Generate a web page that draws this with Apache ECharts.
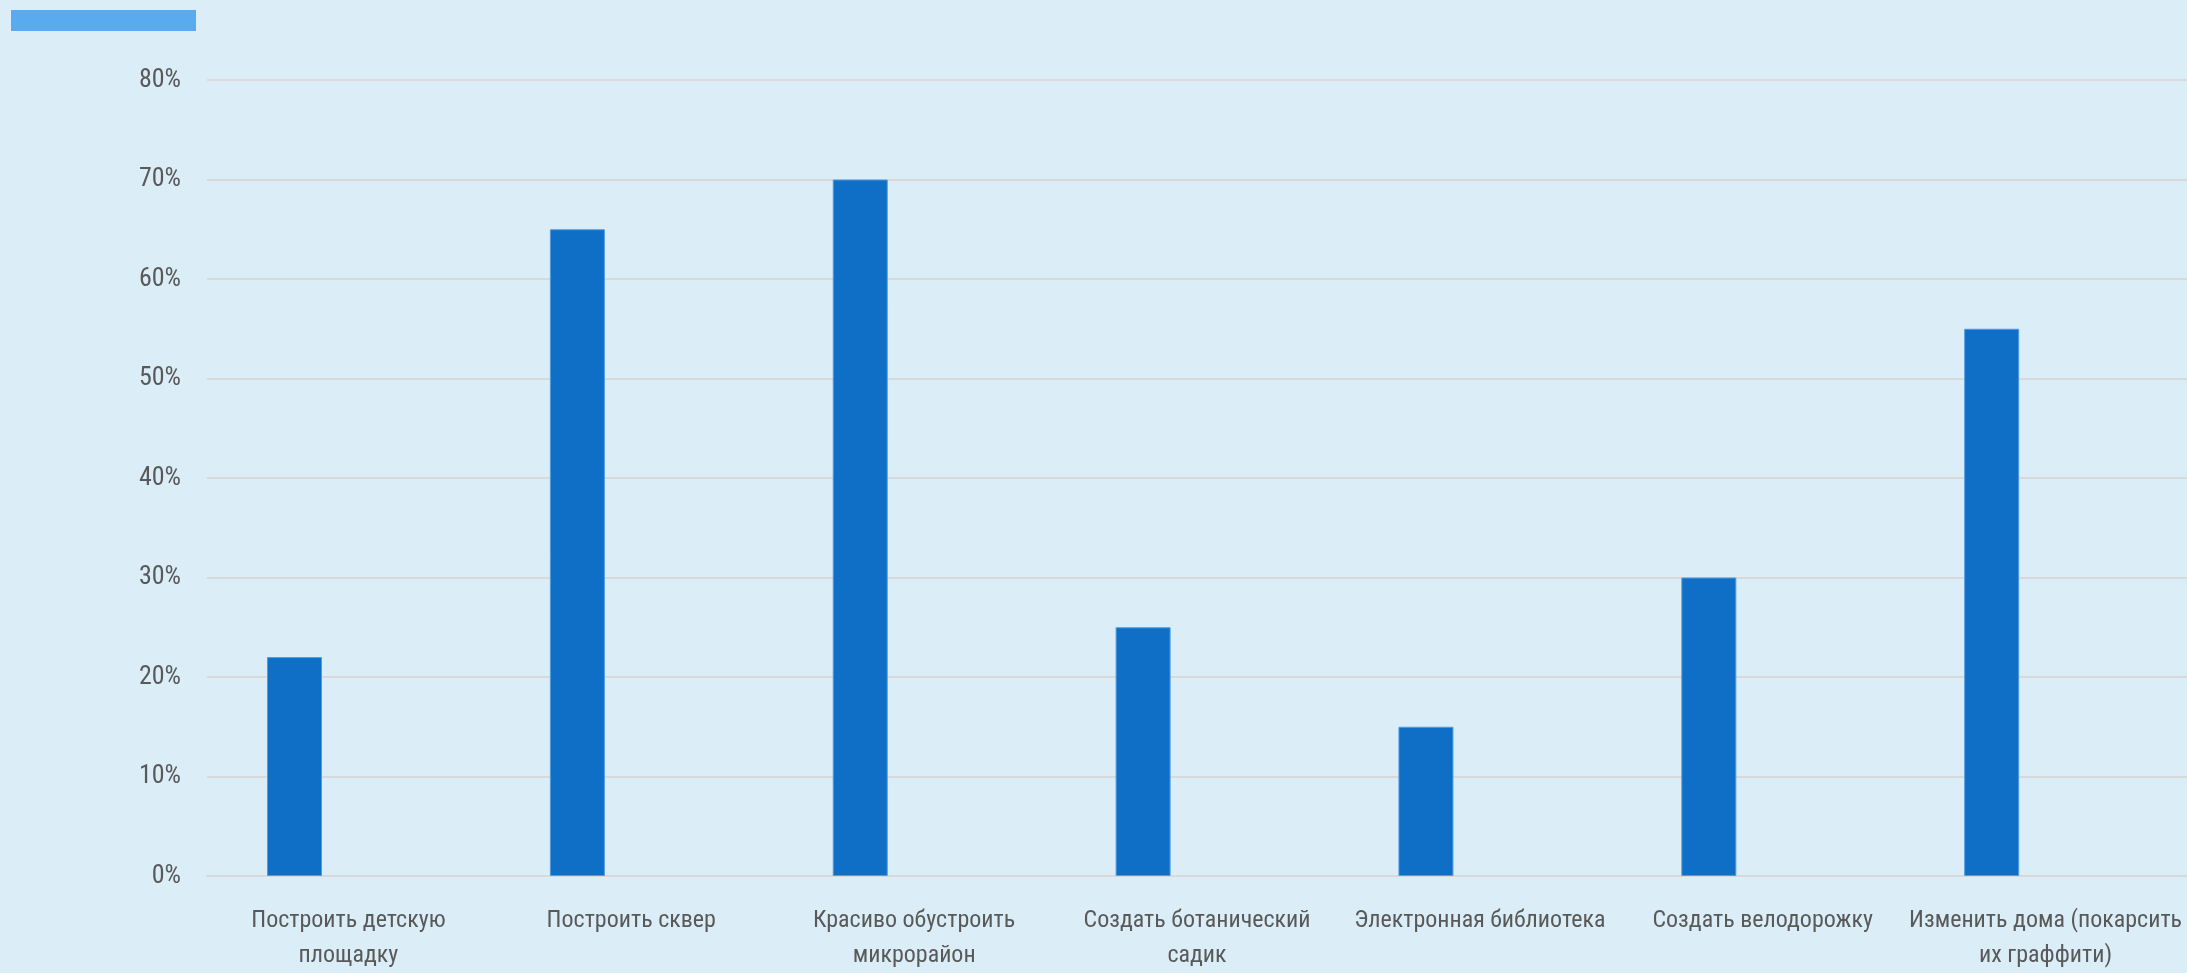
<!DOCTYPE html>
<html>
<head>
<meta charset="utf-8">
<script src="https://cdn.jsdelivr.net/npm/echarts@6/dist/echarts.min.js"></script>
<style>
html,body{margin:0;padding:0;background:#dbeef8;overflow:hidden;}
#c{width:2187px;height:973px;}
</style>
</head>
<body>
<div id="c"></div>
<script>
const categories = [
  'Построить детскую\nплощадку',
  'Построить сквер',
  'Красиво обустроить\nмикрорайон',
  'Создать ботанический\nсадик',
  'Электронная библиотека',
  'Создать велодорожку',
  'Изменить дома (покарсить\nих граффити)'
];
const values = [22, 65, 70, 25, 15, 30, 55];
const emptySeries = [null, null, null, null, null, null, null];
const yTicks = [0, 10, 20, 30, 40, 50, 60, 70, 80];

const FONT = '"Liberation Sans Narrow", "Roboto Condensed", "DejaVu Sans Condensed", sans-serif';
const chart = echarts.init(document.getElementById('c'), null, {renderer: 'canvas'});
chart.setOption({
  backgroundColor: '#dbeef8',
  animation: false,
  legend: {
    left: 6, top: 5,
    itemWidth: 185, itemHeight: 21, itemGap: 0,
    icon: 'rect',
    data: ['Ряд2'],
    formatter: () => '',
    textStyle: {fontSize: 1}
  },
  grid: {left: 207, right: 0, top: 80, bottom: 91, containLabel: false},
  xAxis: {
    type: 'category',
    data: categories,
    axisLine: {show: true, lineStyle: {color: '#d9d9d9', width: 2}},
    axisTick: {show: false},
    axisLabel: {
      interval: 0,
      margin: 27,
      color: '#595959',
      fontFamily: FONT,
      fontSize: 24,
      lineHeight: 35
    }
  },
  yAxis: {
    type: 'value',
    min: yTicks[0], max: yTicks[yTicks.length - 1], interval: 10,
    axisLine: {show: false},
    axisTick: {show: false},
    splitLine: {lineStyle: {color: '#d9d9d9', width: 2}},
    axisLabel: {
      margin: 26,
      color: '#595959',
      fontFamily: FONT,
      fontSize: 26,
      formatter: v => v + '%'
    }
  },
  series: [
    {
      name: 'Ряд1', type: 'bar', data: values,
      barWidth: 55, barGap: '96%',
      itemStyle: {color: '#0f6fc6', borderColor: '#4f9be0', borderWidth: 1}
    },
    {
      name: 'Ряд2', type: 'bar', data: emptySeries,
      barWidth: 55,
      itemStyle: {color: '#5aaaf0'}
    }
  ]
});
</script>
</body>
</html>
